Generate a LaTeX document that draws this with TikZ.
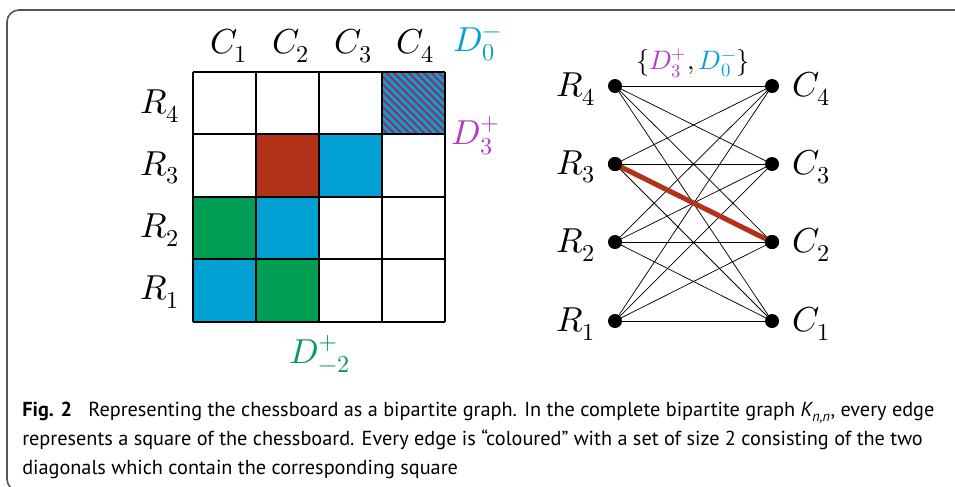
\documentclass[tikz,border=0pt]{standalone}
\usepackage{fontspec}
\usepackage{unicode-math}
\setmathfont{Latin Modern Math}
\newfontfamily\capfont{PT Sans}
\definecolor{cblue}{RGB}{0,160,210}
\definecolor{cgreen}{RGB}{0,158,85}
\definecolor{cred}{RGB}{178,50,24}
\definecolor{cpurple}{RGB}{180,60,196}
\definecolor{chatch}{RGB}{200,16,60}
\definecolor{frame}{RGB}{85,85,85}
\tikzset{
  lab/.style={font=\fontsize{26}{30}\selectfont, inner sep=0pt},
  dot/.style={circle, fill=black, inner sep=0pt, minimum size=10.5pt},
  edge/.style={draw=black, line width=0.55pt},
  cell/.style={draw=black, line width=0.8pt}
}
\begin{document}
\begin{tikzpicture}[x=0.75pt,y=-0.75pt]
\useasboundingbox (0,0) rectangle (955,486);
% frame
\draw[frame, line width=1.2pt, rounded corners=9pt] (7,10) rectangle (990,491);
% coloured cells
\fill[cred]   (256,134) rectangle (319,197);
\fill[cblue]  (319,134) rectangle (382,197);
\fill[cgreen] (193,197) rectangle (256,259);
\fill[cblue]  (256,197) rectangle (319,259);
\fill[cblue]  (193,259) rectangle (256,322);
\fill[cgreen] (256,259) rectangle (319,322);
\fill[cblue]  (382,72) rectangle (445,134);
\begin{scope}
  \clip (382,72) rectangle (445,134);
  \foreach \k in {-64,-56.5,...,64} {
    \draw[chatch, line width=1.1pt] (382+\k,72) -- (382+\k+70,142);
  }
\end{scope}
% grid
\foreach \x in {193,256,319,382,445} \draw[cell] (\x,72) -- (\x,322);
\foreach \y in {72,134,197,259,322} \draw[cell] (193,\y) -- (445,\y);
% grid labels
\node[lab] (c1) at (229,46) {$C_1$};
\node[lab] (c2) at (291,46) {$C_2$};
\node[lab] (c3) at (353,46) {$C_3$};
\node[lab] (c4) at (415,46) {$C_4$};
\node[lab] (r4) at (160,106) {$R_4$};
\node[lab] (r3) at (160,168) {$R_3$};
\node[lab] (r2) at (160,230) {$R_2$};
\node[lab] (r1) at (160,292) {$R_1$};
\node[lab, text=cblue] (d0) at (478,44) {$D_0^-$};
\node[lab, text=cpurple] (d3) at (476,136) {$D_3^+$};
\node[lab, text=cgreen] (dm2) at (320,354) {$D_{-2}^+$};
% bipartite graph
\node[dot] (a4) at (615,86) {};
\node[dot] (a3) at (615,164) {};
\node[dot] (a2) at (615,242) {};
\node[dot] (a1) at (615,321) {};
\node[dot] (b4) at (772,86) {};
\node[dot] (b3) at (772,164) {};
\node[dot] (b2) at (772,242) {};
\node[dot] (b1) at (772,321) {};
\foreach \i in {1,2,3,4} \foreach \j in {1,2,3,4} {
  \draw[edge] (a\i.center) -- (b\j.center);
}
\draw[cred, line width=3.8pt] (a3.center) -- (b2.center);
\node[dot] at (a3) {};
\node[dot] at (b2) {};
\node[lab] (ra4) at (576,89) {$R_4$};
\node[lab] (ra3) at (576,167) {$R_3$};
\node[lab] (ra2) at (576,245) {$R_2$};
\node[lab] (ra1) at (576,324) {$R_1$};
\node[lab] (cb4) at (811,89) {$C_4$};
\node[lab] (cb3) at (811,167) {$C_3$};
\node[lab] (cb2) at (811,245) {$C_2$};
\node[lab] (cb1) at (811,324) {$C_1$};
\node[lab, font=\fontsize{20}{24}\selectfont] (set) at (693,63) {$\{\textcolor{cpurple}{D_3^+}, \textcolor{cblue}{D_0^-}\}$};
% caption
\node[anchor=north west, inner sep=0pt, align=left, font=\capfont\fontsize{15.2}{21.6}\selectfont] (cap) at (22,402)
{\textbf{Fig. 2}\hspace{0.8em}Representing the chessboard as a bipartite graph. In the complete bipartite graph {\itshape K}\textsubscript{\itshape n,n}, every edge\\
represents a square of the chessboard. Every edge is “coloured” with a set of size 2 consisting of the two\\
diagonals which contain the corresponding square};
\end{tikzpicture}
\end{document}
